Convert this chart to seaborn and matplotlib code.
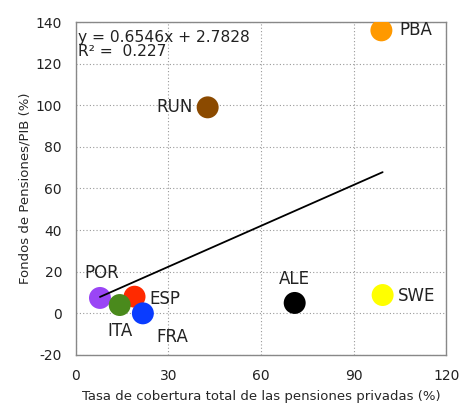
import numpy as np
import pandas as pd
import seaborn as sns
import matplotlib.pyplot as plt

sns.set_style("white")
plt.rcParams["font.family"] = ["DejaVu Sans"]
plt.rcParams["axes.unicode_minus"] = False

paises = ["PBA", "RUN", "POR", "ESP", "ITA", "FRA", "ALE", "SWE"]
cobertura = [99, 42.7, 7.8, 19, 14.2, 21.7, 70.9, 99.4]
fondos = [136, 99, 7.4, 8, 4, 0, 5, 8.8]
colores = ["#FF9900", "#8B4A00", "#9A45F5", "#FF2A00", "#4A8A1C", "#0A3CFF", "#000000", "#FFFF00"]
pendiente, intercepto = 0.6546, 2.7828

df = pd.DataFrame({"pais": paises, "x": cobertura, "y": fondos})

fig = plt.figure(figsize=(4.6, 4.08), dpi=100)
ax = fig.add_axes([0.165, 0.13, 0.805, 0.816])

sns.scatterplot(data=df, x="x", y="y", hue="pais", palette=colores,
                s=250, edgecolor="none", legend=False, ax=ax, zorder=3)

xl = np.array([min(cobertura), max(cobertura)])
ax.plot(xl, pendiente * xl + intercepto, color="black", lw=1.3, zorder=4)

# desplazamiento de cada etiqueta (puntos)
offsets = {"PBA": (13, 0, "left"), "RUN": (-11, 0, "right"), "POR": (1, 18, "center"),
           "ESP": (11, -2, "left"), "ITA": (0, -19, "center"), "FRA": (21, -17, "center"),
           "ALE": (0, 17, "center"), "SWE": (11, -1, "left")}
for p, x, y in zip(paises, cobertura, fondos):
    dx, dy, ha = offsets[p]
    ax.annotate(p, (x, y), xytext=(dx, dy), textcoords="offset points",
                ha=ha, va="center", fontsize=12, color="#222222", zorder=5)

ax.text(0.005, 0.975, "y = 0.6546x + 2.7828\nR² =  0.227", transform=ax.transAxes,
        ha="left", va="top", fontsize=11.2, linespacing=0.85, color="#222222")

ax.set_xlim(0, 120)
ax.set_ylim(-20, 140)
ax.set_xticks(range(0, 121, 30))
ax.set_yticks(range(-20, 141, 20))
ax.grid(True, color="#999999", linestyle=(0, (1, 2)), linewidth=0.8)
for s in ax.spines.values():
    s.set_color("#888888")
    s.set_linewidth(1)
ax.tick_params(labelsize=10, length=0, pad=10, labelcolor="#222222")
ax.set_xlabel("Tasa de cobertura total de las pensiones privadas (%)", fontsize=9.5, labelpad=5)
ax.set_ylabel("Fondos de Pensiones/PIB (%)", fontsize=9.5, labelpad=3)

fig.savefig("out.png", dpi=100)
